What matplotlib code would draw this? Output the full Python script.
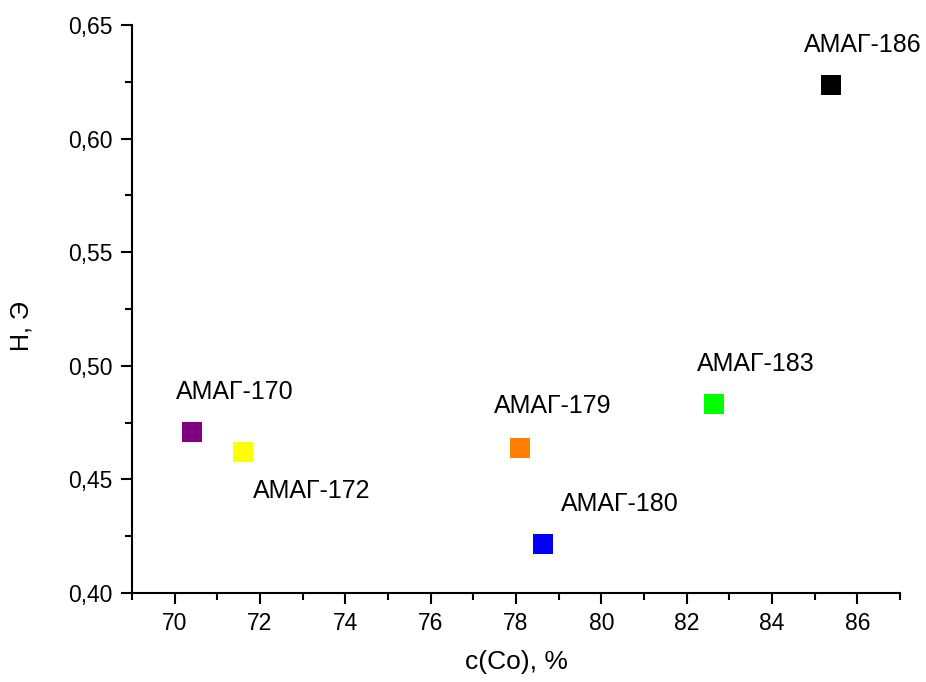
import matplotlib.pyplot as plt
from matplotlib.ticker import MultipleLocator, FuncFormatter

plt.rcParams["font.family"] = ["Liberation Sans", "DejaVu Sans"]

names = ["АМАГ-170", "АМАГ-172", "АМАГ-179", "АМАГ-180", "АМАГ-183", "АМАГ-186"]
co = [70.4, 71.6, 78.1, 78.63, 82.64, 85.37]
h = [0.471, 0.462, 0.464, 0.4216, 0.483, 0.6238]
colors = ["#800080", "#ffff00", "#ff8000", "#0000ff", "#00ff00", "#000000"]
# label offsets in pixels from each marker
offsets = [(43, 40), (69, -39), (32, 42), (77, 40), (42, 40), (32, 40)]

fig = plt.figure(figsize=(9.26, 6.82), dpi=100)
ax = fig.add_axes([0.1425, 0.1305, 0.8295, 0.8328])

for x, y, c, name, off in zip(co, h, colors, names, offsets):
    ax.plot(x, y, "s", color=c, markersize=14, markeredgewidth=0, clip_on=False)
    ax.annotate(name, (x, y), xytext=off, textcoords="offset pixels",
                ha="center", va="center", fontsize=18)

ax.set_xlim(69, 87)
ax.set_ylim(0.40, 0.65)
ax.xaxis.set_major_locator(MultipleLocator(2))
ax.xaxis.set_minor_locator(MultipleLocator(1))
ax.yaxis.set_major_locator(MultipleLocator(0.05))
ax.yaxis.set_minor_locator(MultipleLocator(0.025))
ax.xaxis.set_major_formatter(FuncFormatter(lambda v, p: f"{v:.0f}"))
ax.yaxis.set_major_formatter(FuncFormatter(lambda v, p: f"{v:.2f}".replace(".", ",")))

ax.spines["top"].set_visible(False)
ax.spines["right"].set_visible(False)
for s in ("left", "bottom"):
    ax.spines[s].set_linewidth(1.5)
ax.tick_params(which="major", direction="out", length=8, width=1.5, labelsize=16.5, pad=6)
ax.tick_params(which="minor", direction="out", length=5, width=1.5)

ax.set_xlabel("c(Co), %", fontsize=19)
ax.set_ylabel("Н, Э", fontsize=18)
ax.xaxis.set_label_coords(0.5, -0.1)
ax.yaxis.set_label_coords(-0.128, 0.47)

fig.savefig("out.png", dpi=100)
